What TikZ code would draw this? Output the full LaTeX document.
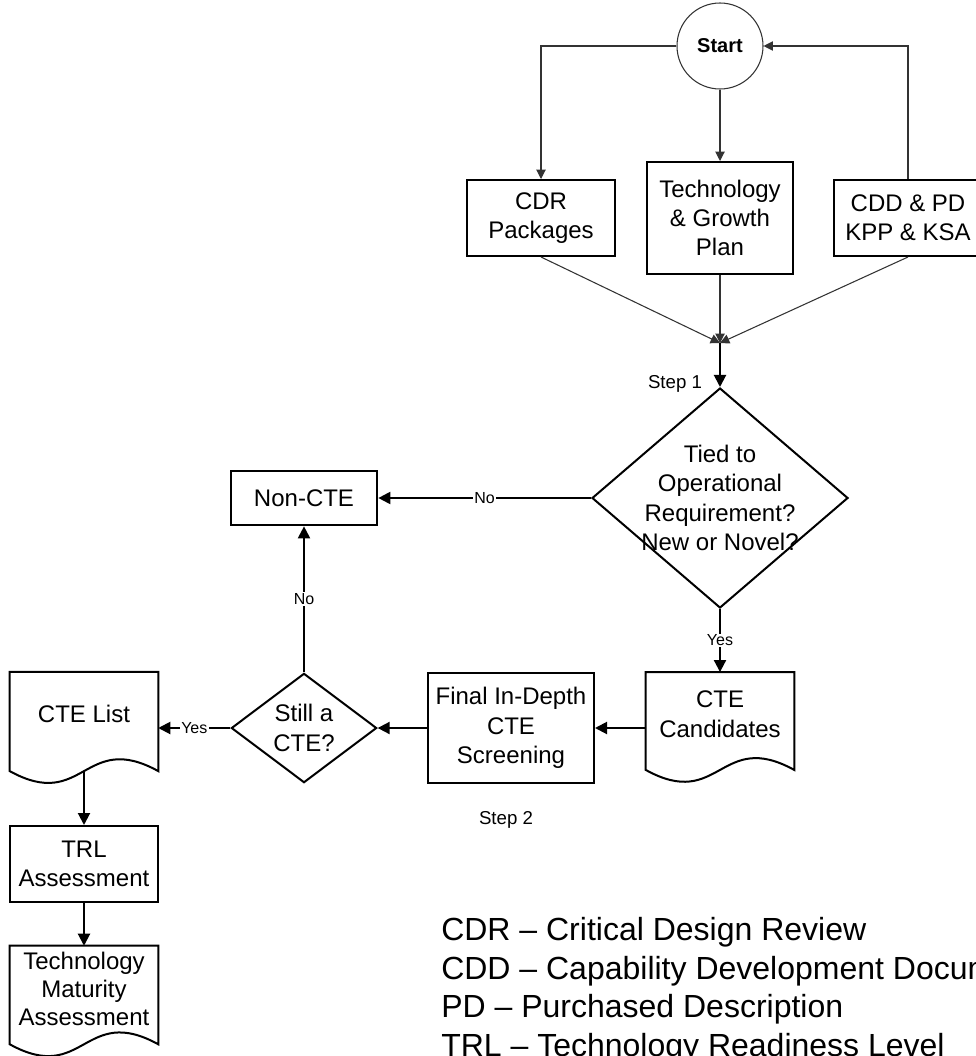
\documentclass[tikz,border=0pt]{standalone}
\usepackage{fontspec}
\setmainfont{Liberation Sans}
\usetikzlibrary{arrows.meta,shapes.geometric,calc}

% document symbol: flat top, wavy bottom
\newcommand{\docshape}[1]{%
  \draw[line width=1.5pt] (#1.south west) -- (#1.north west) -- (#1.north east) -- (#1.south east)
    .. controls ($(#1.south)+(0,-41)$) and ($(#1.south)+(0,41)$) .. (#1.south west) -- cycle;}
% extra depth on the last line, lifts the text above the wave
\newcommand{\wavegap}[1]{\rule[-#1]{0pt}{#1}}

\begin{document}
\begin{tikzpicture}[x=0.75pt, y=-0.75pt, >={Triangle[length=9pt,width=9pt]},
  font=\fontsize{18}{22}\selectfont,
  box/.style={draw, line width=1.5pt, align=center, inner sep=0pt},
  doc/.style={align=center, inner sep=0pt, minimum width=111pt},
  decide/.style={diamond, draw, line width=1.5pt, inner sep=0pt, align=center},
  lite/.style={line width=0.8pt, black!80, >={Triangle[length=7pt,width=7pt]}},
  heavy/.style={line width=1.5pt},
  lbl/.style={fill=white, inner sep=1pt, font=\fontsize{12}{14}\selectfont},
  note/.style={font=\fontsize{14}{17}\selectfont}]
	\useasboundingbox (0,0) rectangle (975,1056);
	% top: start and the three inputs
	\node[circle, draw=black!80, line width=0.8pt, minimum size=64.5pt, font=\bfseries\fontsize{15}{18}\selectfont] (St) at (720,46) {Start};
	\node[box, minimum width=111pt, minimum height=57pt] (CDR) at (541,218) {CDR\\Packages};
	\node[box, minimum width=110pt, minimum height=84pt] (TG) at (720,218) {Technology\\\& Growth\\Plan};
	\node[box, minimum width=111pt, minimum height=57pt] (CDD) at (908,218) {CDD \& PD\\KPP \& KSA};
	\coordinate (J) at (720,343);
	\draw[lite,->] (St) -| (CDR);
	\draw[lite,->] (St) -- (TG);
	\draw[lite,->] (CDD) |- (St);
	\draw[lite,->] (CDR.south) -- (J);
	\draw[lite,->] (TG) -- (J);
	\draw[lite,->] (CDD.south) -- (J);
	% step 1
	\node[decide, minimum width=192pt, minimum height=165pt] (Q1) at (720,498) {};
	\node[align=center] (Q1t) at (Q1) {Tied to\\Operational\\Requirement?\\New or Novel?};
	\node[note] (S1) at (675,384) {Step 1};
	\node[box, minimum width=110pt, minimum height=41pt] (NC) at (304,498) {Non-CTE};
	\node[doc, minimum height=73pt] (CC) at (720,721) {CTE\\Candidates\wavegap{10.5pt}};
	\docshape{CC}
	\draw[heavy,->] (J) -- (Q1);
	\draw[heavy,->] (Q1) -- node[lbl] (N1) {No} (NC);
	\draw[heavy,->] (Q1) -- node[lbl] (Y1) {Yes} (CC);
	% step 2
	\node[box, minimum width=124.5pt, minimum height=82.5pt] (FS) at (511,728) {Final In-Depth\\CTE\\Screening};
	\node[decide, minimum width=109pt, minimum height=82pt] (Q2) at (304,728) {Still a\\CTE?};
	\node[note] (S2) at (506,820) {Step 2};
	\node[doc, minimum height=74pt] (CL) at (84,721.5) {CTE List\wavegap{12pt}};
	\node[box, minimum width=111pt, minimum height=57pt] (TRL) at (84,864) {TRL\\Assessment};
	\node[doc, minimum height=73.5pt, font=\fontsize{18}{21}\selectfont] (TMA) at (84,995) {Technology\\Maturity\\Assessment\wavegap{9pt}};
	\docshape{CL}
	\docshape{TMA}
	\draw[heavy,->] (FS.east -| CC.west) -- (FS);
	\draw[heavy,->] (FS) -- (Q2);
	\draw[heavy,->] (Q2) -- node[lbl] (Y2) {Yes} (Q2.west -| CL.east);
	\draw[heavy,->] (Q2) -- node[lbl] (N2) {No} (NC);
	\draw[heavy,->] (CL) -- (TRL);
	\draw[heavy,->] (TRL) -- (TMA);
	% abbreviations
	\node[anchor=north west, align=left, inner sep=0pt, font=\fontsize{24}{29}\selectfont] (Key) at (441,917)
		{CDR – Critical Design Review\\CDD – Capability Development Document\\PD – Purchased Description\\TRL – Technology Readiness Level};
\end{tikzpicture}
\end{document}
